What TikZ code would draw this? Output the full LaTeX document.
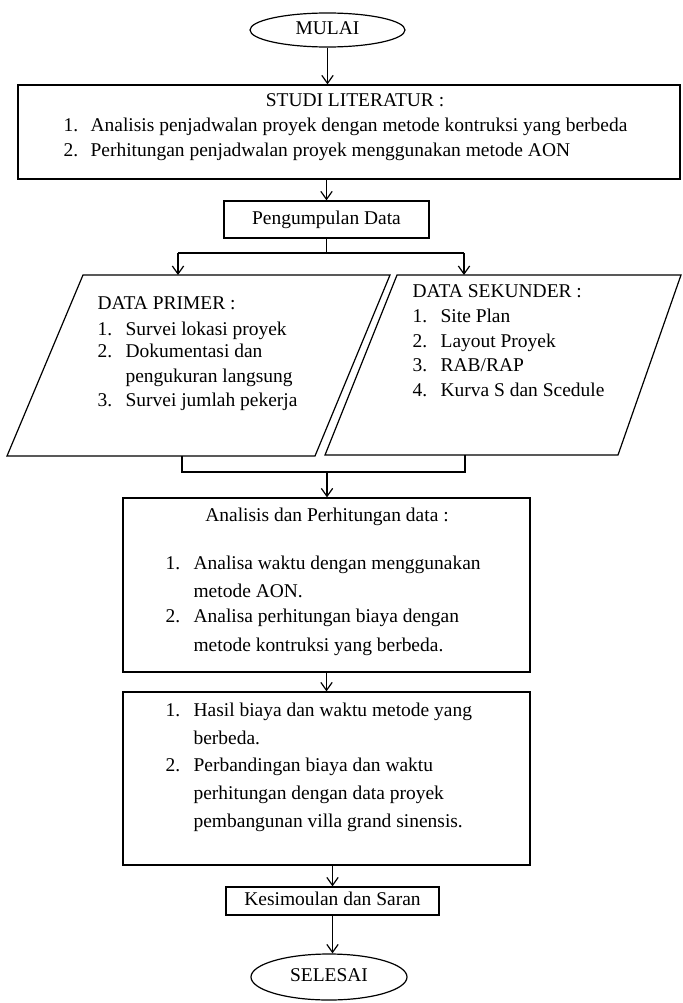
\documentclass[tikz,border=0pt]{standalone}
\usepackage{fontspec}
\setmainfont{Liberation Serif}
\usetikzlibrary{shapes.geometric,arrows.meta}
\begin{document}
\begin{tikzpicture}[x=0.75pt,y=-0.75pt,
  line width=0.9pt,
  box/.style={draw,rectangle,inner sep=0pt},
  oval/.style={draw,ellipse,inner sep=0pt},
  txt/.style={inner sep=0pt,anchor=west,text height=10pt,text depth=3pt,font=\fontsize{14.6}{16}\selectfont},
  ctxt/.style={inner sep=0pt,anchor=center,text height=10pt,text depth=3pt,font=\fontsize{14.6}{16}\selectfont},
  arr/.style={-{Straight Barb[length=6pt,width=8.5pt]}}]
\useasboundingbox (0,0) rectangle (682,1003);
% shapes
\node[oval,minimum width=155*0.75pt,minimum height=34*0.75pt] (mulai) at (327.5,30) {};
\node[box,minimum width=662*0.75pt,minimum height=94*0.75pt] (studi) at (349,132) {};
\node[box,minimum width=205*0.75pt,minimum height=37*0.75pt] (kumpul) at (326.5,219.5) {};
\node[box,minimum width=407*0.75pt,minimum height=174*0.75pt] (analisis) at (326.5,585) {};
\node[box,minimum width=407*0.75pt,minimum height=173*0.75pt] (hasil) at (326.5,778.5) {};
\node[box,minimum width=213*0.75pt,minimum height=28*0.75pt] (simpul) at (332.5,901) {};
\node[oval,minimum width=156*0.75pt,minimum height=46*0.75pt] (selesai) at (329,977) {};
% parallelograms
\coordinate (L1) at (83,275); \coordinate (L2) at (390,275);
\coordinate (L3) at (315,456); \coordinate (L4) at (7,456);
\coordinate (R1) at (397,275); \coordinate (R2) at (681,275);
\coordinate (R3) at (618,455); \coordinate (R4) at (325,455);
\draw (L1) -- (L2) -- (L3) -- (L4) -- cycle;
\draw (R1) -- (R2) -- (R3) -- (R4) -- cycle;
% connectors
\draw[arr] (mulai.south) -- (mulai.south |- studi.north);
\draw[arr] (studi.south -| kumpul.north) -- (kumpul.north);
\coordinate (split) at (kumpul.south |- 0,253);
\coordinate (sl) at (178,253);
\coordinate (sr) at (464,253);
\draw (kumpul.south) -- (split);
\draw (sl) -- (sr);
\draw[arr] (sl) -- (sl |- L1);
\draw[arr] (sr) -- (sr |- R1);
\coordinate (bl) at (182,456);
\coordinate (br) at (465,455);
\coordinate (bm) at (327,472);
\draw (bl) -- (bl |- bm) -- (br |- bm) -- (br);
\draw[arr] (bm) -- (bm |- analisis.north);
\draw[arr] (analisis.south) -- (hasil.north);
\draw[arr] (hasil.south -| simpul.north) -- (simpul.north);
\draw[arr] (simpul.south) -- (simpul.south |- selesai.north);
% texts
\node[ctxt] (tm) at (mulai) {MULAI};
\node[ctxt] (ts) at (selesai) {SELESAI};
\node[ctxt] (t0) at (355,102) {STUDI LITERATUR :};
\node[txt] (t1n) at (63,127) {1.};
\node[txt] (t1) at (90,127) {Analisis penjadwalan proyek dengan metode kontruksi yang berbeda};
\node[txt] (t2n) at (63,152) {2.};
\node[txt] (t2) at (90,152) {Perhitungan penjadwalan proyek menggunakan metode AON};
\node[ctxt] (tk) at (kumpul) {Pengumpulan Data};
% primer
\node[txt] (p0) at (97,305) {DATA PRIMER :};
\node[txt] (p1n) at (97,331) {1.};
\node[txt] (p1) at (125,331) {Survei lokasi proyek};
\node[txt] (p2n) at (97,353) {2.};
\node[txt] (p2) at (125,353) {Dokumentasi dan};
\node[txt] (p2b) at (125,378) {pengukuran langsung};
\node[txt] (p3n) at (97,402) {3.};
\node[txt] (p3) at (125,402) {Survei jumlah pekerja};
% sekunder
\node[txt] (s0) at (412,293) {DATA SEKUNDER :};
\node[txt] (s1n) at (412,318) {1.};
\node[txt] (s1) at (440,318) {Site Plan};
\node[txt] (s2n) at (412,343) {2.};
\node[txt] (s2) at (440,343) {Layout Proyek};
\node[txt] (s3n) at (412,367) {3.};
\node[txt] (s3) at (440,367) {RAB/RAP};
\node[txt] (s4n) at (412,392) {4.};
\node[txt] (s4) at (440,392) {Kurva S dan Scedule};
% analisis
\node[ctxt] (a0) at (327,517) {Analisis dan Perhitungan data :};
\node[txt] (a1n) at (165,565) {1.};
\node[txt] (a1) at (193,565) {Analisa waktu dengan menggunakan};
\node[txt] (a1b) at (193,593) {metode AON.};
\node[txt] (a2n) at (165,618) {2.};
\node[txt] (a2) at (193,618) {Analisa perhitungan biaya dengan};
\node[txt] (a2b) at (193,647) {metode kontruksi yang berbeda.};
% hasil
\node[txt] (h1n) at (165,712) {1.};
\node[txt] (h1) at (193,712) {Hasil biaya dan waktu metode yang};
\node[txt] (h1b) at (193,740) {berbeda.};
\node[txt] (h2n) at (165,767) {2.};
\node[txt] (h2) at (193,767) {Perbandingan biaya dan waktu};
\node[txt] (h2b) at (193,795) {perhitungan dengan data proyek};
\node[txt] (h2c) at (193,823) {pembangunan villa grand sinensis.};
\node[ctxt] (tsp) at (simpul) {Kesimoulan dan Saran};
\end{tikzpicture}
\end{document}
